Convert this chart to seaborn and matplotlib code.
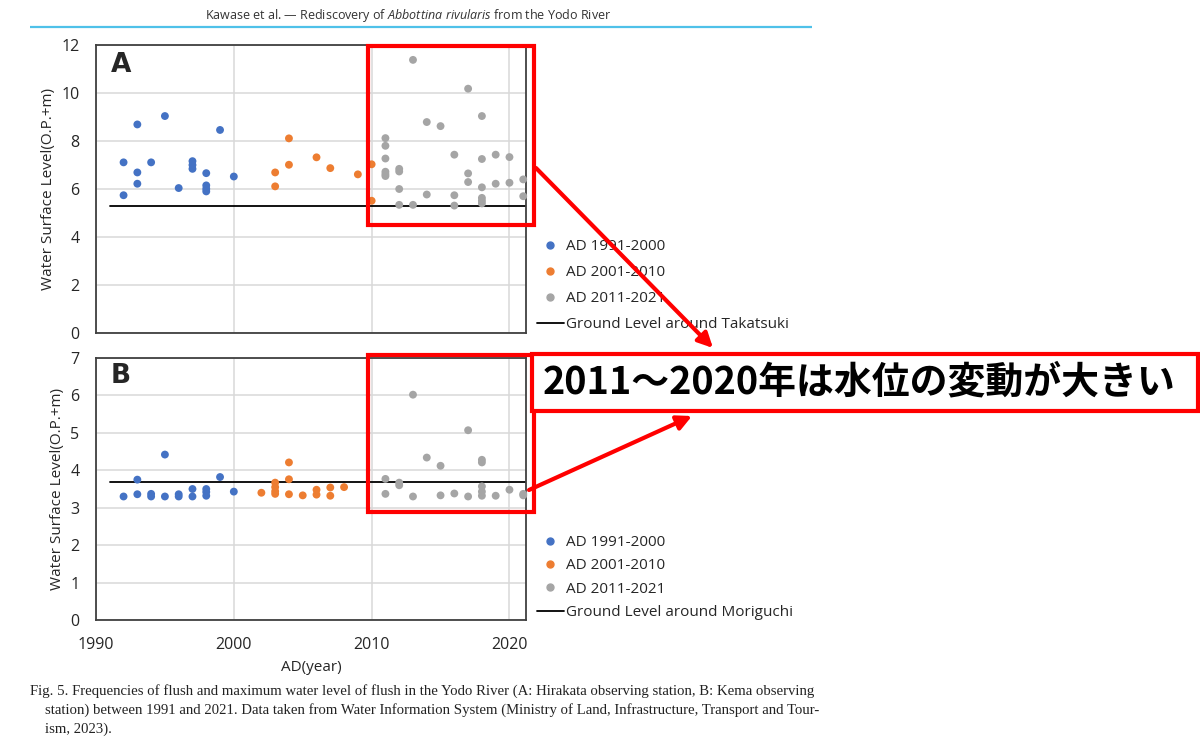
import pandas as pd
import matplotlib
matplotlib.use("Agg")
import matplotlib.pyplot as plt
import seaborn as sns
from matplotlib.lines import Line2D
from matplotlib.patches import Rectangle, FancyArrowPatch

# ---- values ----
periods = ["AD 1991-2000", "AD 2001-2010", "AD 2011-2021"]
period_colors = ["#4472C4", "#ED7D31", "#A5A5A5"]
period_bins = [1990, 2000, 2010, 2021]

# A: Hirakata observing station
a_years = [1992, 1992, 1993, 1993, 1993, 1994, 1995, 1996, 1997, 1997, 1997,
           1998, 1998, 1998, 1998, 1999, 2000,
           2003, 2003, 2004, 2004, 2006, 2007, 2009, 2010, 2010,
           2011, 2011, 2011, 2011, 2011, 2011, 2012, 2012, 2012, 2012,
           2013, 2013, 2014, 2014, 2015, 2016, 2016, 2016, 2017, 2017, 2017,
           2018, 2018, 2018, 2018, 2018, 2018, 2019, 2019, 2020, 2020, 2021, 2021]
a_levels = [7.11, 5.74, 8.69, 6.69, 6.22, 7.11, 9.04, 6.04, 7.16, 7.00, 6.84,
            6.66, 6.15, 6.01, 5.90, 8.46, 6.52,
            6.69, 6.11, 8.11, 7.01, 7.32, 6.87, 6.61, 7.03, 5.51,
            8.12, 7.80, 7.27, 6.72, 6.62, 6.54, 6.84, 6.73, 6.00, 5.34,
            11.38, 5.34, 8.79, 5.77, 8.62, 7.43, 5.74, 5.31, 10.18, 6.65, 6.29,
            9.04, 7.25, 6.07, 5.63, 5.51, 5.40, 7.43, 6.22, 7.33, 6.26, 6.40, 5.70]
a_ground = 5.3

# B: Kema observing station
b_years = [1992, 1993, 1993, 1994, 1994, 1995, 1995, 1996, 1996, 1997, 1997,
           1998, 1998, 1998, 1999, 2000,
           2002, 2003, 2003, 2003, 2003, 2004, 2004, 2004, 2005, 2006, 2006,
           2007, 2007, 2008,
           2011, 2011, 2012, 2012, 2013, 2013, 2014, 2015, 2015, 2016, 2017, 2017,
           2018, 2018, 2018, 2018, 2018, 2019, 2020, 2021, 2021]
b_levels = [3.30, 3.75, 3.36, 3.37, 3.30, 4.42, 3.30, 3.36, 3.30, 3.50, 3.30,
            3.50, 3.42, 3.32, 3.82, 3.43,
            3.40, 3.67, 3.55, 3.44, 3.37, 4.21, 3.76, 3.36, 3.33, 3.48, 3.35,
            3.54, 3.32, 3.55,
            3.77, 3.37, 3.67, 3.60, 6.02, 3.30, 4.34, 4.12, 3.33, 3.38, 5.07, 3.30,
            4.28, 4.21, 3.57, 3.43, 3.32, 3.32, 3.48, 3.37, 3.33]
b_ground = 3.7

x_ticks = [1990, 2000, 2010, 2020]

sns.set_style("white")
plt.rcParams["font.family"] = ["Open Sans", "DejaVu Sans"]
plt.rcParams["mathtext.fontset"] = "custom"
plt.rcParams["mathtext.rm"] = "Open Sans"
plt.rcParams["mathtext.it"] = "Open Sans:italic"

fig = plt.figure(figsize=(12, 7.54), dpi=100)
W, H = 1200, 754


def px_axes(left, top, right, bottom):
    return fig.add_axes([left / W, 1 - bottom / H, (right - left) / W, (bottom - top) / H])


def draw_panel(ax, years, levels, ground, ground_label, ymax, tag, legend_top, spacing):
    df = pd.DataFrame({"year": years, "level": levels})
    df["period"] = pd.cut(df["year"], bins=period_bins, labels=periods)
    sns.scatterplot(data=df, x="year", y="level", hue="period", hue_order=periods,
                    palette=period_colors, s=32, linewidth=0, legend=False,
                    ax=ax, clip_on=False, zorder=3)
    ax.plot([1991, 2021.2], [ground, ground], color="black", lw=1.3, zorder=2)
    ax.set_xlim(1990, 2021.2)
    ax.set_ylim(0, ymax)
    ax.set_xticks(x_ticks)
    ax.set_yticks(range(0, ymax + 1, 2 if ymax > 8 else 1))
    ax.grid(True, color="#d9d9d9", lw=1.1)
    ax.set_axisbelow(True)
    for sp in ax.spines.values():
        sp.set_color("#404040")
        sp.set_linewidth(1.3)
    ax.tick_params(length=0, pad=12, labelsize=11.5, colors="#262626")
    ax.set_ylabel("Water Surface Level(O.P.+m)", fontsize=11, color="#262626", labelpad=4)
    ax.set_xlabel("")
    ax.text(0.035, 0.93, tag, transform=ax.transAxes, fontsize=19, fontweight="heavy",
            family="DejaVu Sans", va="center", ha="left")
    handles = [Line2D([], [], ls="", marker="o", ms=5, color=c) for c in period_colors]
    handles.append(Line2D([], [], color="black", lw=1.3))
    ax.legend(handles, periods + [ground_label], loc="upper left",
              bbox_to_anchor=(537 / W, 1 - legend_top / H), bbox_transform=fig.transFigure,
              frameon=False, fontsize=11, handlelength=1.75, handletextpad=0.15,
              labelspacing=spacing, borderpad=0, borderaxespad=0, labelcolor="#262626")


ax_a = px_axes(96, 45, 526, 333)
ax_b = px_axes(96, 358, 526, 620)
draw_panel(ax_a, a_years, a_levels, a_ground, "Ground Level around Takatsuki", 12, "A", 239, 0.72)
draw_panel(ax_b, b_years, b_levels, b_ground, "Ground Level around Moriguchi", 7, "B", 535, 0.55)
ax_a.tick_params(labelbottom=False)
ax_b.set_xlabel("AD(year)", fontsize=11, color="#262626", labelpad=5)

# ---- page header, caption and red annotations (pixel coordinates) ----
ov = fig.add_axes([0, 0, 1, 1], zorder=10)
ov.set_xlim(0, W)
ov.set_ylim(H, 0)
ov.axis("off")
ov.patch.set_alpha(0)

ov.text(408, 15, r"Kawase et al. — Rediscovery of $\it{Abbottina\ rivularis}$ from the Yodo River",
        ha="center", va="center", fontsize=9, color="#333333")
ov.plot([30, 812], [27, 27], color="#4fc1e9", lw=1.6, solid_capstyle="butt")

cap_font = dict(family="Liberation Serif", fontsize=10.6, color="#222222", va="center", ha="left")
ov.text(30, 691, "Fig. 5. Frequencies of flush and maximum water level of flush in the Yodo River "
        "(A: Hirakata observing station, B: Kema observing", **cap_font)
ov.text(45, 710, "station) between 1991 and 2021. Data taken from Water Information System "
        "(Ministry of Land, Infrastructure, Transport and Tour-", **cap_font)
ov.text(45, 729, "ism, 2023).", **cap_font)

red = "#ff0000"
ov.add_patch(Rectangle((368, 46), 166, 179, fill=False, ec=red, lw=3))
ov.add_patch(Rectangle((368, 355), 166, 157, fill=False, ec=red, lw=3))
ov.add_patch(FancyArrowPatch((536, 168), (713, 348), arrowstyle="-|>", mutation_scale=22,
                             color=red, lw=3, shrinkA=0, shrinkB=0))
ov.add_patch(FancyArrowPatch((529, 490), (692, 416), arrowstyle="-|>", mutation_scale=22,
                             color=red, lw=3, shrinkA=0, shrinkB=0))
ov.add_patch(Rectangle((532, 353.5), 666, 57, fc="white", ec=red, lw=3))
ov.text(543, 382, "2011～2020年は水位の変動が大きい", fontsize=27.3, fontweight="bold",
        family=["Noto Sans CJK JP", "DejaVu Sans"], ha="left", va="center", color="black")

fig.savefig("out.png", dpi=100)
